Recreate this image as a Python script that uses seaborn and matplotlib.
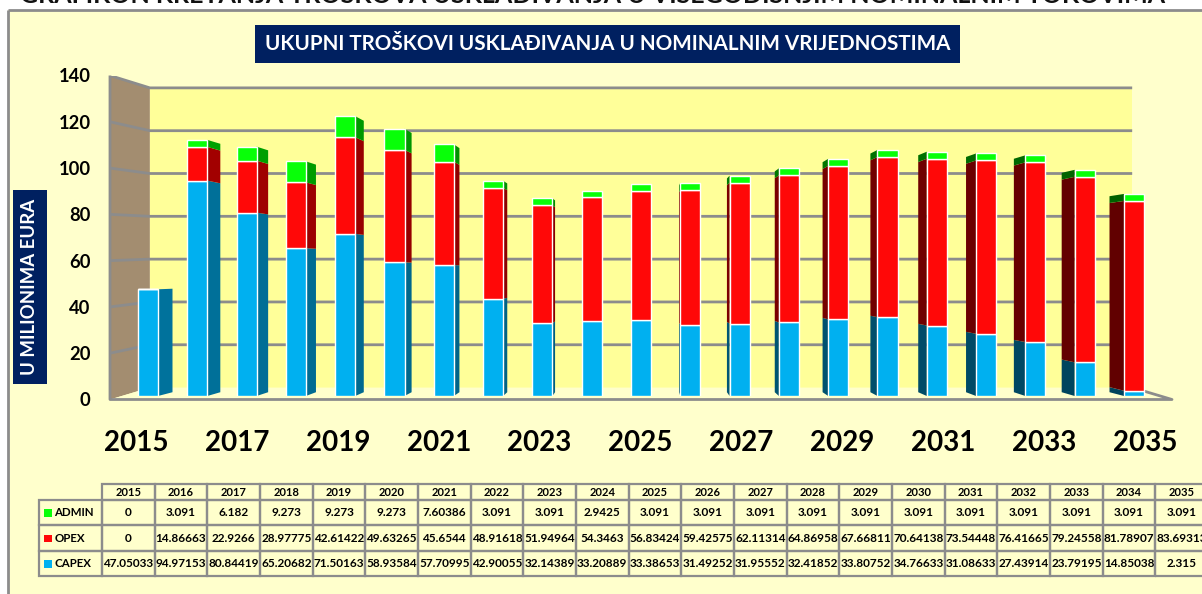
import matplotlib
matplotlib.use("Agg")
import matplotlib.pyplot as plt
from matplotlib.patches import Polygon, Rectangle
import pandas as pd
import seaborn as sns

years = list(range(2015, 2036))
admin = [0, 3.091, 6.182, 9.273, 9.273, 9.273, 7.60386, 3.091, 3.091, 2.9425, 3.091,
         3.091, 3.091, 3.091, 3.091, 3.091, 3.091, 3.091, 3.091, 3.091, 3.091]
opex = [0, 14.86663, 22.9266, 28.97775, 42.61422, 49.63265, 45.6544, 48.91618, 51.94964,
        54.3463, 56.83424, 59.42575, 62.11314, 64.86958, 67.66811, 70.64138, 73.54448,
        76.41665, 79.24558, 81.78907, 83.69313]
capex = [47.05033, 94.97153, 80.84419, 65.20682, 71.50163, 58.93584, 57.70995, 42.90055,
         32.14389, 33.20889, 33.38653, 31.49252, 31.95552, 32.41852, 33.80752, 34.76633,
         31.08633, 27.43914, 23.79195, 14.85038, 2.315]
y_ticks = [0, 20, 40, 60, 80, 100, 120, 140]
title = "UKUPNI TROŠKOVI USKLAĐIVANJA U NOMINALNIM VRIJEDNOSTIMA"
top_title = "GRAFIKON KRETANJA TROŠKOVA USKLAĐIVANJA U VIŠEGODIŠNJIM NOMINALNIM TOKOVIMA"
y_label = "U MILIONIMA EURA"

BLUE, RED, GREEN = "#00B0F0", "#FF0808", "#08FF08"
NAVY, GRID, PAPER, WALL, BACK = "#002060", "#8C8C8C", "#FFFFCC", "#A38D70", "#FFFF99"
FONT = "Lato"

W, H = 1202, 594
sns.set_theme(style="white")
plt.rcParams["font.family"] = [FONT, "DejaVu Sans"]
plt.rcParams["font.weight"] = "bold"


def rect(l, t, r, b):
    return [l / W, 1 - b / H, (r - l) / W, (b - t) / H]


fig = plt.figure(figsize=(W / 100, H / 100), dpi=100, facecolor=PAPER)

# page furniture, in pixel coordinates
bg = fig.add_axes([0, 0, 1, 1], zorder=0)
bg.set_xlim(0, W)
bg.set_ylim(H, 0)
bg.axis("off")
bg.add_patch(Rectangle((0, 0), W, 10, fc="white", ec="none"))
bg.add_patch(Rectangle((0, 10), 8, H, fc="white", ec="none"))
bg.plot([8, 8], [H, 10], color=GRID, lw=2, solid_capstyle="butt")
bg.plot([8, W], [10, 10], color=GRID, lw=2, solid_capstyle="butt")
bg.text(20, 3, top_title, ha="left", va="baseline", fontsize=18, color="#111111",
        clip_on=True, fontweight="bold")
bg.add_patch(Rectangle((255, 25), 705, 38, fc=NAVY, ec="none"))
bg.text(607.5, 44, title, color="white", ha="center", va="center", fontsize=14.9)
bg.add_patch(Rectangle((13, 190), 34, 194, fc=NAVY, ec="none"))
bg.text(30, 287, y_label, color="white", rotation=90, ha="center", va="center", fontsize=13.4)

# 3-D chart box: walls drawn on the value scale
fr = fig.add_axes(rect(110, 75.5, 1172, 399.5), zorder=1)
fr.patch.set_alpha(0)
X_STEP = 50.45
x0f, x1f = (110 - 136) / X_STEP, (1172 - 136) / X_STEP
fr.set_xlim(x0f, x1f)
fr.set_ylim(0, 140)
for s in fr.spines.values():
    s.set_visible(False)
SHRINK = 0.925
XV = (641 - 136) / X_STEP
YV = 68.7


def back(x, y):
    return XV + SHRINK * (x - XV), YV + SHRINK * (y - YV)


bl, tl, tr, br = back(x0f, 0), back(x0f, 140), back(x1f, 140), back(x1f, 0)
fr.add_patch(Polygon([bl, tl, tr, br], fc=BACK, ec="none", zorder=1))
fr.add_patch(Polygon([(x0f, 0), (x0f, 140), tl, bl], fc=WALL, ec="none", zorder=1))
fr.add_patch(Polygon([(x0f, 0), bl, br, (x1f, 0)], fc=PAPER, ec="none", zorder=1))
for v in y_ticks[1:]:
    b0, b1 = back(x0f, v), back(x1f, v)
    fr.plot([x0f, b0[0], b1[0]], [v, b0[1], b1[1]], color=GRID, lw=2, zorder=2,
            solid_capstyle="butt")
fr.plot([br[0], x1f, x0f, x0f], [br[1], 0, 0, 140], color=GRID, lw=2, zorder=2,
        solid_capstyle="butt", clip_on=False)
fr.set_yticks(y_ticks)
fr.set_xticks(range(0, 21, 2))
fr.set_xticklabels([str(y) for y in years[::2]])
fr.tick_params(axis="y", length=0, pad=14, labelsize=13.2, labelcolor="black")
fr.tick_params(axis="x", length=0, pad=22, labelsize=20, labelcolor="black")
for lab in fr.get_xticklabels() + fr.get_yticklabels():
    lab.set_fontweight("bold")

# bars
ax = fig.add_axes(rect(148 - 24.65, 78.5, 1134 + 24.65, 396), zorder=2)
df = pd.DataFrame({"year": [str(y) for y in years], "CAPEX": capex, "OPEX": opex, "ADMIN": admin})
BAR_W = 0.406
bottom = [0.0] * len(years)
DEPTH, XC, YC = 0.03, 10.0, 55.6
for name, col, rgb in (("CAPEX", BLUE, (0x00, 0xB0, 0xF0)),
                       ("OPEX", RED, (0xFF, 0x00, 0x00)),
                       ("ADMIN", GREEN, (0x00, 0xFF, 0x00))):
    sns.barplot(data=df, x="year", y=name, color=col, saturation=1, width=BAR_W,
                bottom=bottom, ax=ax, zorder=3)
    for i, val in enumerate(df[name]):
        if val == 0:
            continue
        y0, y1 = bottom[i], bottom[i] + val
        xe = i + BAR_W / 2 if i < XC else i - BAR_W / 2
        xb = xe + DEPTH * (XC - xe)
        f = 0.65 - 0.27 * i / 20
        shade = tuple(c * f / 255 for c in rgb)
        ax.add_patch(Polygon([(xe, y0), (xe, y1), (xb, y1 + DEPTH * (YC - y1)),
                              (xb, y0 + DEPTH * (YC - y0))], fc=shade, ec="none", zorder=2))
    bottom = [b + v for b, v in zip(bottom, df[name])]
ax.set_xlim(-0.5, 20.5)
ax.set_ylim(0, 140)
ax.axis("off")

# data table
tb = fig.add_axes(rect(39, 484, 1208, 576), zorder=3)
tb.set_xlim(39, 1208)
tb.set_ylim(576, 484)
tb.axis("off")
rows = [("ADMIN", admin, GREEN), ("OPEX", opex, RED), ("CAPEX", capex, BLUE)]
cells = [[""] + [str(y) for y in years]]
for name, vals, _ in rows:
    cells.append([""] + [f"{v:.10g}" for v in vals])
col_w = [63 / 1169] + [52.7 / 1169] * 21
tab = tb.table(cellText=cells, colWidths=col_w, cellLoc="center", bbox=[0, 0, 1, 1])
tab.auto_set_font_size(False)
row_h = [16, 25.3, 25.7, 25]
for (r, c), cell in tab.get_celld().items():
    cell.set_height(row_h[r] / 92)
    cell.set_edgecolor(GRID)
    cell.set_linewidth(1.6)
    cell.set_facecolor("none")
    cell.get_text().set_fontsize(8.5 if r else 8)
    cell.get_text().set_fontweight("bold")
    cell.get_text().set_color("black")
    if r == 0 and c == 0:
        cell.set_visible(False)
tops = [500, 525.3, 551, 576]
for k, (name, _, col) in enumerate(rows):
    yc = (tops[k] + tops[k + 1]) / 2
    tb.add_patch(Rectangle((44, yc - 3.5), 7.5, 7.5, fc=col, ec="none"))
    tb.text(54.5, yc, name, ha="left", va="center", fontsize=8.3, color="black")

fig.savefig("out.png", dpi=100, facecolor=PAPER)
